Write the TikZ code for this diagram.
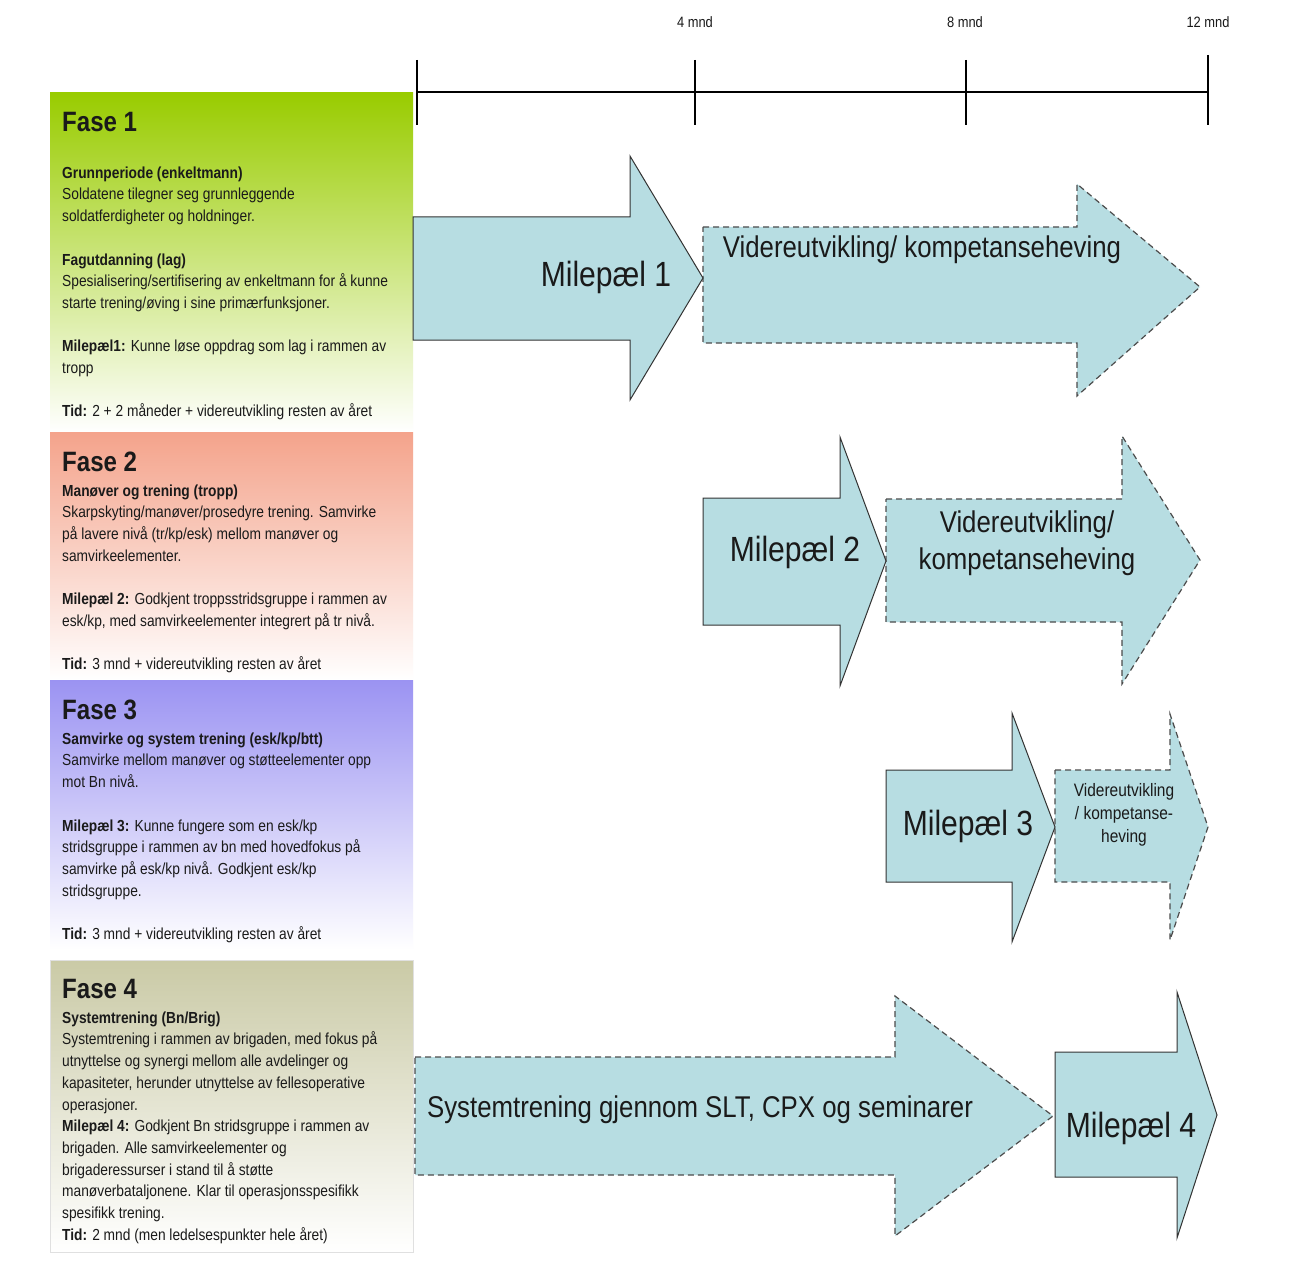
\documentclass[tikz,border=0pt]{standalone}
\usepackage{fontspec}
\setmainfont{Liberation Sans}[FakeStretch=0.86]
\definecolor{arrowfill}{HTML}{B7DDE2}
\definecolor{fA}{HTML}{99CC00}
\definecolor{fB}{HTML}{F4A38B}
\definecolor{fC}{HTML}{9B93F2}
\definecolor{fD}{HTML}{CACAA6}
\definecolor{txt}{HTML}{1A1A1A}
\tikzset{
  solidarrow/.style={fill=arrowfill, draw=black!80, line width=1pt, line join=miter},
  dasharrow/.style={fill=arrowfill, draw=black!70, line width=1.2pt, dash pattern=on 6pt off 4pt},
  bigtext/.style={font=\fontsize{35}{40}\selectfont, text=txt, inner sep=0pt},
  midtext/.style={font=\fontsize{30}{37}\selectfont, text=txt, inner sep=0pt, align=center},
  smalltext/.style={font=\fontsize{18}{23}\selectfont, text=txt, inner sep=0pt, align=center},
  phasehead/.style={font=\bfseries\fontsize{28}{32}\selectfont, text=txt, anchor=base west, inner sep=0pt},
  phasebody/.style={font=\fontsize{16}{21.7}\selectfont, text=txt, align=left, anchor=north west, inner sep=0pt},
  ticklabel/.style={font=\fontsize{15}{18}\selectfont, text=txt, inner sep=0pt},
  tline/.style={line width=1.3pt, draw=black}
}
\begin{document}
\begin{tikzpicture}[x=1pt, y=-1pt]
\useasboundingbox[fill=white] (0,0) rectangle (1301,1276);

% ---------- timeline ----------
\coordinate (t0) at (417,92);
\coordinate (t4) at (695,92);
\coordinate (t8) at (966,92);
\coordinate (t12) at (1208,92);
\draw[line width=2.2pt] (t0) -- (t12);
\draw[tline] (417,60) -- (417,125);
\draw[tline] (695,60) -- (695,125);
\draw[tline] (966,60) -- (966,125);
\draw[tline] (1208,55) -- (1208,125);
\node[ticklabel] (l4) at (695,22) {4 mnd};
\node[ticklabel] (l8) at (965,22) {8 mnd};
\node[ticklabel] (l12) at (1208,22) {12 mnd};

% ---------- phase boxes ----------
\shade[top color=fA, bottom color=white] (50,93) rectangle (413,432);
\shade[top color=fB, bottom color=white] (50,432) rectangle (413,680);
\shade[top color=fC, bottom color=white] (50,680) rectangle (413,950);
\shade[top color=fD, bottom color=white, draw=black!12] (50,960) rectangle (413,1252);

\node[phasehead] (h1) at (62,132) {Fase 1};
\node[phasebody] (b1) at (62,165) {\rule{0pt}{13pt}\textbf{Grunnperiode (enkeltmann)}\\
Soldatene tilegner seg grunnleggende\\
soldatferdigheter og holdninger.\\[21.7pt]
\textbf{Fagutdanning (lag)}\\
Spesialisering/sertifisering av enkeltmann for å kunne\\
starte trening/øving i sine primærfunksjoner.\\[21.7pt]
\textbf{Milepæl1:} Kunne løse oppdrag som lag i rammen av\\
tropp\\[21.7pt]
\textbf{Tid:} 2 + 2 måneder + videreutvikling resten av året};

\node[phasehead] (h2) at (62,471) {Fase 2};
\node[phasebody] (b2) at (62,483) {\rule{0pt}{13pt}\textbf{Manøver og trening (tropp)}\\
Skarpskyting/manøver/prosedyre trening. Samvirke\\
på lavere nivå (tr/kp/esk) mellom manøver og\\
samvirkeelementer.\\[21.7pt]
\textbf{Milepæl 2:} Godkjent troppsstridsgruppe i rammen av\\
esk/kp, med samvirkeelementer integrert på tr nivå.\\[21.7pt]
\textbf{Tid:} 3 mnd + videreutvikling resten av året};

\node[phasehead] (h3) at (62,719) {Fase 3};
\node[phasebody] (b3) at (62,731) {\rule{0pt}{13pt}\textbf{Samvirke og system trening (esk/kp/btt)}\\
Samvirke mellom manøver og støtteelementer opp\\
mot Bn nivå.\\[21.7pt]
\textbf{Milepæl 3:} Kunne fungere som en esk/kp\\
stridsgruppe i rammen av bn med hovedfokus på\\
samvirke på esk/kp nivå. Godkjent esk/kp\\
stridsgruppe.\\[21.7pt]
\textbf{Tid:} 3 mnd + videreutvikling resten av året};

\node[phasehead] (h4) at (62,998) {Fase 4};
\node[phasebody] (b4) at (62,1010) {\rule{0pt}{13pt}\textbf{Systemtrening (Bn/Brig)}\\
Systemtrening i rammen av brigaden, med fokus på\\
utnyttelse og synergi mellom alle avdelinger og\\
kapasiteter, herunder utnyttelse av fellesoperative\\
operasjoner.\\
\textbf{Milepæl 4:} Godkjent Bn stridsgruppe i rammen av\\
brigaden. Alle samvirkeelementer og\\
brigaderessurser i stand til å støtte\\
manøverbataljonene. Klar til operasjonsspesifikk\\
spesifikk trening.\\
\textbf{Tid:} 2 mnd (men ledelsespunkter hele året)};

% ---------- arrows ----------
% Videreutvikling 1 (dashed)
\draw[dasharrow] (703,227) -- (1077,227) -- (1077,184) -- (1200,287) -- (1077,396) -- (1077,343) -- (703,343) -- cycle;
% Milepael 1 (solid)
\draw[solidarrow] (413,217) -- (630,217) -- (630,156) -- (703,278) -- (630,400) -- (630,340) -- (413,340) -- cycle;
\node[bigtext] (m1) at (606,277) {Milepæl 1};
\node[midtext] (v1) at (922,250) {Videreutvikling/ kompetanseheving};

% Videreutvikling 2 (dashed)
\draw[dasharrow] (886,499) -- (1122,499) -- (1122,436) -- (1200,560) -- (1122,684) -- (1122,622) -- (886,622) -- cycle;
% Milepael 2
\draw[solidarrow] (703,498) -- (840,498) -- (840,437) -- (886,561) -- (840,686) -- (840,625) -- (703,625) -- cycle;
\node[bigtext] (m2) at (795,552) {Milepæl 2};
\node[midtext] (v2) at (1027,543) {Videreutvikling/\\kompetanseheving};

% Videreutvikling 3 (dashed)
\draw[dasharrow] (1055,770) -- (1170,770) -- (1170,714) -- (1208,827) -- (1170,940) -- (1170,882) -- (1055,882) -- cycle;
% Milepael 3
\draw[solidarrow] (886,770) -- (1012,770) -- (1012,713) -- (1055,827) -- (1012,942) -- (1012,882) -- (886,882) -- cycle;
\node[bigtext] (m3) at (968,826) {Milepæl 3};
\node[smalltext] (v3) at (1124,815) {Videreutvikling\\/ kompetanse-\\heving};

% Systemtrening (dashed)
\draw[dasharrow] (415,1057) -- (895,1057) -- (895,996) -- (1053,1116) -- (895,1236) -- (895,1175) -- (415,1175) -- cycle;
\node[midtext] (s4) at (700,1110) {Systemtrening gjennom SLT, CPX og seminarer};
% Milepael 4
\draw[solidarrow] (1055,1052) -- (1177,1052) -- (1177,992) -- (1217,1115) -- (1177,1238) -- (1177,1177) -- (1055,1177) -- cycle;
\node[bigtext] (m4) at (1131,1128) {Milepæl 4};
\end{tikzpicture}
\end{document}
